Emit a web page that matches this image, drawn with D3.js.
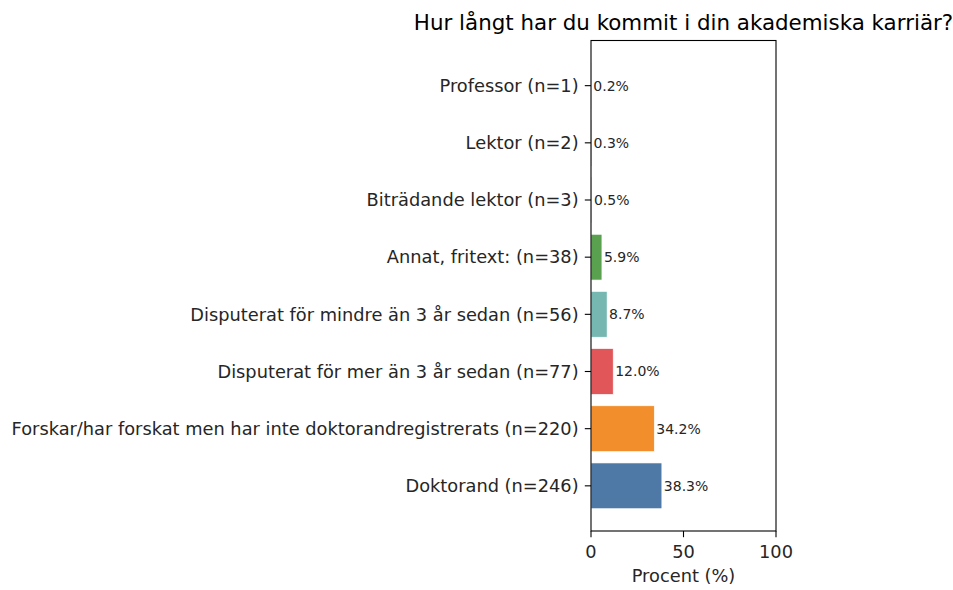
<!DOCTYPE html>
<html>
<head>
<meta charset="utf-8">
<script src="https://cdn.jsdelivr.net/npm/d3@7"></script>
<style>
  body { margin: 0; background: #fff; }
  text { font-family: "DejaVu Sans", sans-serif; }
</style>
</head>
<body>
<svg id="chart" width="953" height="590"></svg>
<script>
// categories, top to bottom
const categories = [
  "Professor (n=1)",
  "Lektor (n=2)",
  "Biträdande lektor (n=3)",
  "Annat, fritext: (n=38)",
  "Disputerat för mindre än 3 år sedan (n=56)",
  "Disputerat för mer än 3 år sedan (n=77)",
  "Forskar/har forskat men har inte doktorandregistrerats (n=220)",
  "Doktorand (n=246)"
];
const percents = [0.2, 0.3, 0.5, 5.9, 8.7, 12.0, 34.2, 38.3];
const barColors = ["#ff9da7", "#b07aa1", "#edc948", "#59a14f", "#76b7b2", "#e15759", "#f28e2b", "#4e79a7"];
const xTicks = [0, 50, 100];

const margin = { top: 40.5, left: 591 };
const width = 776 - 591;
const height = 531 - 40.5;

const svg = d3.select("#chart");
const g = svg.append("g")
  .attr("transform", "translate(" + margin.left + "," + margin.top + ")");

const x = d3.scaleLinear().domain([0, 100]).range([0, width]);
// matplotlib barh: bars at 0..7 with height 0.8, 5% margins
const n = categories.length;
const y = d3.scaleLinear().domain([-0.4 - 0.39, n - 1 + 0.4 + 0.39]).range([height, 0]);
const idx = i => n - 1 - i; // Doktorand at bottom (position 0)

g.selectAll(".bar")
  .data(percents)
  .enter()
  .append("rect")
  .attr("class", "bar")
  .attr("x", x(0))
  .attr("y", (d, i) => y(idx(i) + 0.4))
  .attr("width", d => x(d) - x(0))
  .attr("height", (d, i) => y(idx(i) - 0.4) - y(idx(i) + 0.4))
  .attr("fill", (d, i) => barColors[i])
  .attr("stroke", "#fff")
  .attr("stroke-width", 0.6);

g.selectAll(".val")
  .data(percents)
  .enter()
  .append("text")
  .attr("class", "val")
  .attr("x", d => x(d) + 2)
  .attr("y", (d, i) => y(idx(i)))
  .attr("dy", "0.35em")
  .attr("font-size", 14)
  .attr("fill", "#262626")
  .text(d => d.toFixed(1) + "%");

// frame
g.append("rect")
  .attr("x", 0).attr("y", 0)
  .attr("width", width).attr("height", height)
  .attr("fill", "none")
  .attr("stroke", "#000")
  .attr("stroke-width", 1.1);

// y ticks and labels
const yt = g.append("g");
categories.forEach((c, i) => {
  const yy = y(idx(i));
  yt.append("line").attr("x1", -6.2).attr("x2", 0).attr("y1", yy).attr("y2", yy)
    .attr("stroke", "#000").attr("stroke-width", 1.1);
  yt.append("text").attr("x", -12.4).attr("y", yy).attr("dy", "0.35em")
    .attr("text-anchor", "end").attr("font-size", 17.8).attr("fill", "#262626")
    .text(c);
});

// x axis
const xt = g.append("g").attr("transform", "translate(0," + height + ")");
xTicks.forEach(t => {
  xt.append("line").attr("x1", x(t)).attr("x2", x(t)).attr("y1", 0).attr("y2", 6.2)
    .attr("stroke", "#000").attr("stroke-width", 1.1);
  xt.append("text").attr("x", x(t)).attr("y", 26.7).attr("text-anchor", "middle")
    .attr("font-size", 17.8).attr("fill", "#262626").text(t);
});

g.append("text")
  .attr("x", width / 2).attr("y", height + 51)
  .attr("text-anchor", "middle").attr("font-size", 17.8).attr("fill", "#262626")
  .text("Procent (%)");

g.append("text")
  .attr("x", width / 2).attr("y", -10.7)
  .attr("text-anchor", "middle").attr("font-size", 21.4).attr("fill", "#000")
  .text("Hur långt har du kommit i din akademiska karriär?");
</script>
</body>
</html>
